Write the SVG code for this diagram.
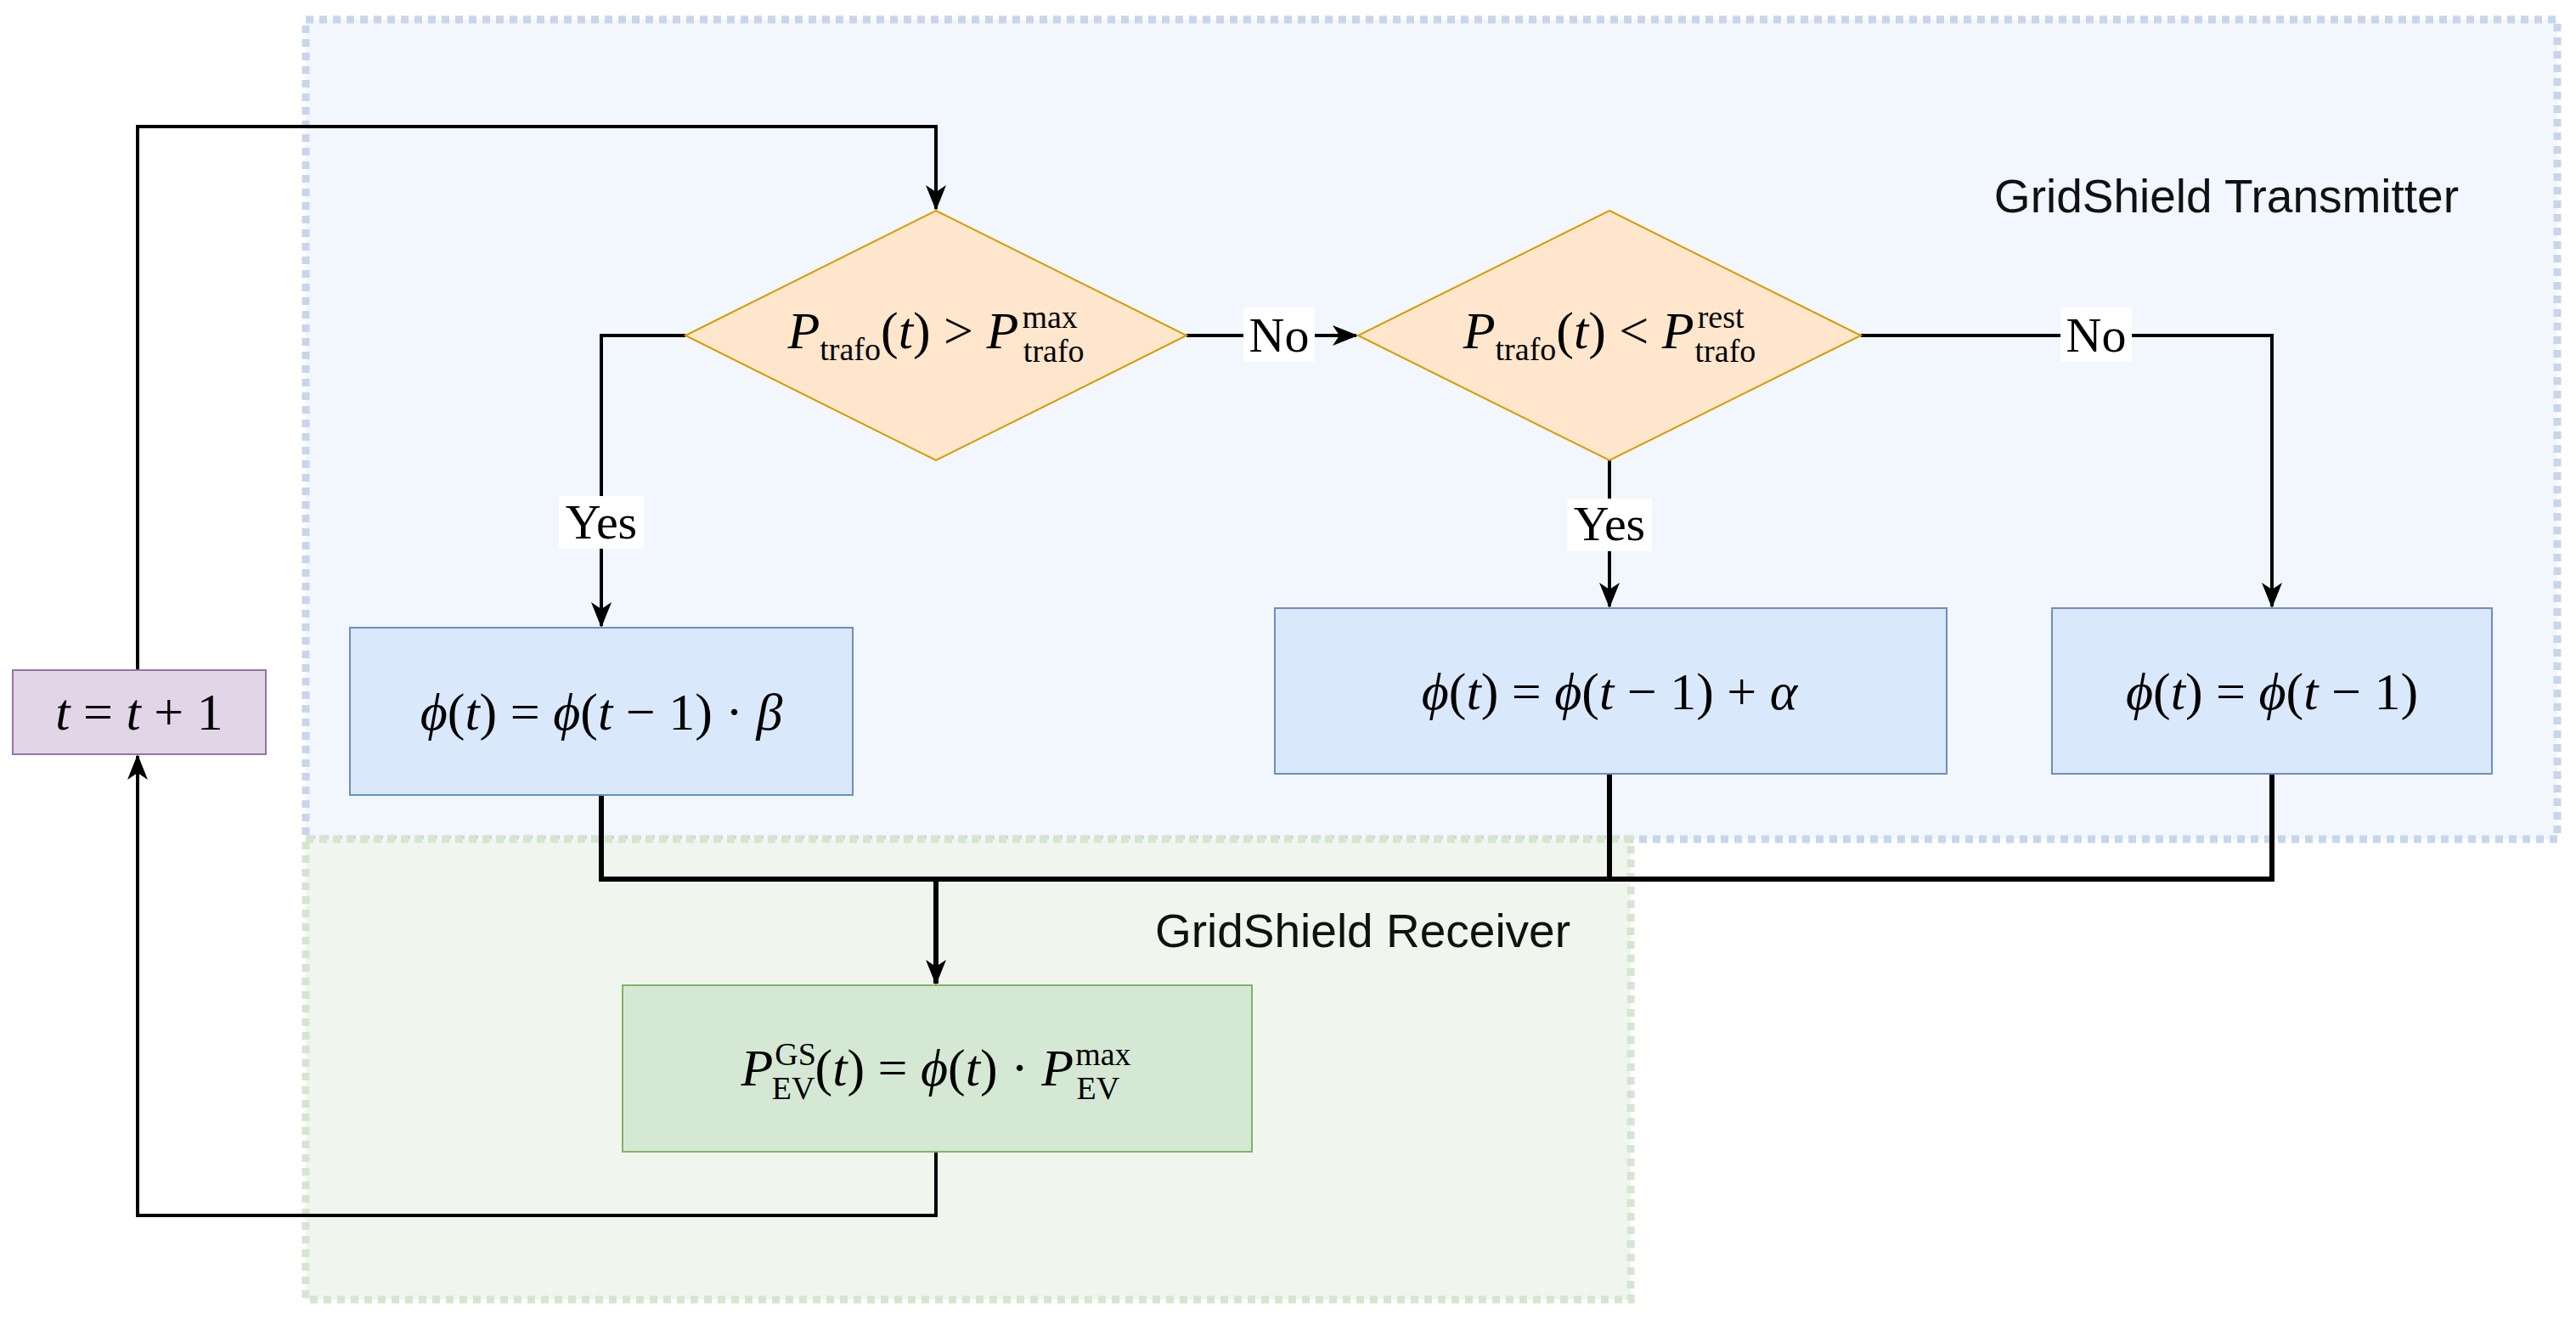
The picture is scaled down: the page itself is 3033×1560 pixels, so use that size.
<svg xmlns="http://www.w3.org/2000/svg" width="3033" height="1560" viewBox="0 0 3033 1560">
<style>
.m{font-family:"Liberation Serif","DejaVu Serif",serif;font-size:62px;fill:#000}
.i{font-style:italic}
.s{font-size:38px}
.lab{font-family:"Liberation Serif",serif;font-size:58px;fill:#000}
.t{font-family:"Liberation Sans",Arial,sans-serif;font-size:55px;fill:#111}
.c{fill:none;stroke:#000;stroke-width:4}
.ct{fill:none;stroke:#000;stroke-width:6}
.proc{fill:#dae8fc;stroke:#6c8ebf;stroke-width:2}
.dec{fill:#ffe6cc;stroke:#d79b00;stroke-width:2}
</style>
<defs>
<marker id="b" viewBox="0 0 30 30" refX="28" refY="15" markerWidth="30" markerHeight="30" markerUnits="userSpaceOnUse" orient="auto">
<path d="M0,3 L30,15 L0,27 L8,15 Z" fill="#000"/>
</marker>
</defs>
<rect width="3033" height="1560" fill="#fff"/>
<g id="transmitter">
<rect x="360" y="23" width="2651" height="965" fill="#f2f6fd" stroke="#c8d6ea" stroke-width="9" stroke-dasharray="9 7"/>
<text class="t" x="2895" y="250" text-anchor="end">GridShield Transmitter</text>
</g>
<g id="receiver">
<rect x="360" y="988" width="1560" height="542" fill="#f0f6ee" stroke="#d5e6cf" stroke-width="9" stroke-dasharray="9 7"/>
<text class="t" x="1849" y="1115" text-anchor="end">GridShield Receiver</text>
</g>
<g id="connectors">
<path class="c" d="M162,789 V149 H1102 V246" marker-end="url(#b)"/>
<path class="c" d="M807,395 H708 V737" marker-end="url(#b)"/>
<path class="c" d="M1397,395 H1597" marker-end="url(#b)"/>
<path class="c" d="M1895,542 V714" marker-end="url(#b)"/>
<path class="c" d="M2191,395 H2675 V714" marker-end="url(#b)"/>
<path class="ct" d="M708,936 V1035 H2675 V911 M1895,911 V1035 M1102,1035 V1158" marker-end="url(#b)"/>
<path class="c" d="M1102,1356 V1431 H162 V890" marker-end="url(#b)"/>
<rect x="658" y="584" width="100" height="62" fill="#fff"/>
<text class="lab" x="708" y="634" text-anchor="middle">Yes</text>
<rect x="1464" y="362" width="84" height="64" fill="#fff"/>
<text class="lab" x="1506" y="414" text-anchor="middle">No</text>
<rect x="1845" y="587" width="100" height="62" fill="#fff"/>
<text class="lab" x="1895" y="636" text-anchor="middle">Yes</text>
<rect x="2426" y="362" width="84" height="64" fill="#fff"/>
<text class="lab" x="2468" y="414" text-anchor="middle">No</text>
</g>
<g id="tinc">
<rect x="15" y="789" width="298" height="99" fill="#e1d5e7" stroke="#9673a6" stroke-width="2"/>
<text class="m" x="164" y="859" text-anchor="middle"><tspan class="i">t</tspan> = <tspan class="i">t</tspan> + 1</text>
</g>
<g id="dec1">
<polygon class="dec" points="1102,248 1397,395 1102,542 807,395"/>
<text class="m" x="1102" y="410" text-anchor="middle"><tspan class="i">P</tspan><tspan class="s" dy="14">trafo</tspan><tspan dy="-14">(</tspan><tspan class="i">t</tspan>) &gt; <tspan class="i">P</tspan><tspan class="s" dx="4" dy="-24">max</tspan><tspan class="s" dx="-64" dy="40">trafo</tspan></text>
</g>
<g id="dec2">
<polygon class="dec" points="1895,248 2191,395 1895,542 1599,395"/>
<text class="m" x="1895" y="410" text-anchor="middle"><tspan class="i">P</tspan><tspan class="s" dy="14">trafo</tspan><tspan dy="-14">(</tspan><tspan class="i">t</tspan>) &lt; <tspan class="i">P</tspan><tspan class="s" dx="4" dy="-24">rest</tspan><tspan class="s" dx="-58" dy="40">trafo</tspan></text>
</g>
<g id="box1">
<rect class="proc" x="412" y="739" width="592" height="197"/>
<text class="m" x="708" y="859" text-anchor="middle"><tspan class="i">ϕ</tspan>(<tspan class="i">t</tspan>)  =  <tspan class="i">ϕ</tspan>(<tspan class="i">t</tspan> − 1) · <tspan class="i">β</tspan></text>
</g>
<g id="box2">
<rect class="proc" x="1501" y="716" width="791" height="195"/>
<text class="m" x="1895" y="835" text-anchor="middle"><tspan class="i">ϕ</tspan>(<tspan class="i">t</tspan>)  =  <tspan class="i">ϕ</tspan>(<tspan class="i">t</tspan> − 1) + <tspan class="i">α</tspan></text>
</g>
<g id="box3">
<rect class="proc" x="2416" y="716" width="518" height="195"/>
<text class="m" x="2675" y="835" text-anchor="middle"><tspan class="i">ϕ</tspan>(<tspan class="i">t</tspan>)  =  <tspan class="i">ϕ</tspan>(<tspan class="i">t</tspan> − 1)</text>
</g>
<g id="recv">
<rect x="733" y="1160" width="741" height="196" fill="#d5e8d4" stroke="#82b366" stroke-width="2"/>
<text class="m" x="1102" y="1278" text-anchor="middle"><tspan class="i">P</tspan><tspan class="s" dx="2" dy="-24">GS</tspan><tspan class="s" dx="-52" dy="40">EV</tspan><tspan dy="-16">(</tspan><tspan class="i">t</tspan>) = <tspan class="i">ϕ</tspan>(<tspan class="i">t</tspan>) · <tspan class="i">P</tspan><tspan class="s" dx="2" dy="-24">max</tspan><tspan class="s" dx="-64" dy="40">EV</tspan></text>
</g>
</svg>
